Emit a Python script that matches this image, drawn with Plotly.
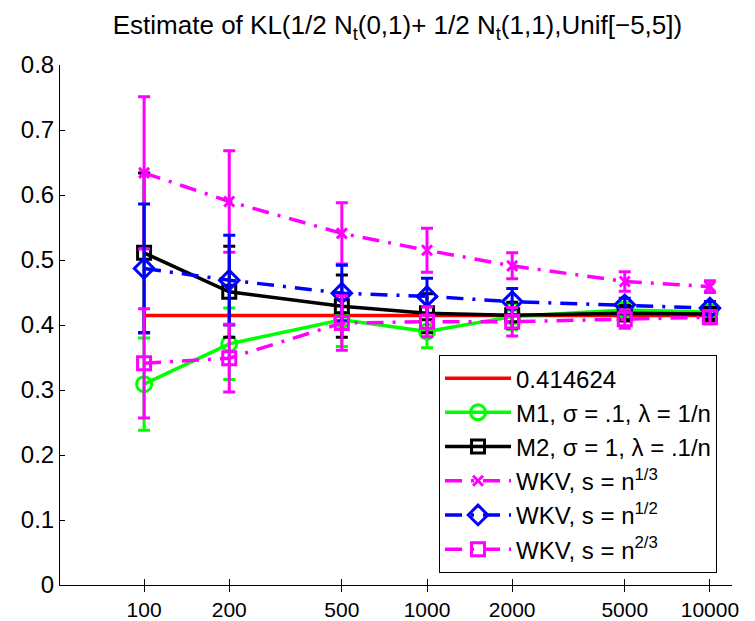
import plotly.graph_objects as go

# ---- data ----
ns = [100, 200, 500, 1000, 2000, 5000, 10000]
truth = 0.414624
m1_mean = [0.309, 0.371, 0.408, 0.390, 0.413, 0.423, 0.420]
m1_err = [0.071, 0.055, 0.041, 0.025, 0.020, 0.012, 0.008]
m2_mean = [0.511, 0.451, 0.429, 0.418, 0.415, 0.418, 0.417]
m2_err = [0.123, 0.070, 0.048, 0.030, 0.020, 0.012, 0.008]
w13_mean = [0.634, 0.590, 0.541, 0.515, 0.491, 0.467, 0.459]
w13_err = [0.117, 0.078, 0.047, 0.034, 0.020, 0.015, 0.009]
w12_mean = [0.487, 0.469, 0.449, 0.444, 0.436, 0.431, 0.426]
w12_err = [0.099, 0.069, 0.043, 0.028, 0.020, 0.010, 0.010]
w23_mean = [0.341, 0.349, 0.403, 0.405, 0.405, 0.409, 0.412]
w23_err = [0.084, 0.052, 0.042, 0.023, 0.022, 0.014, 0.010]
x_ticks = [100, 200, 500, 1000, 2000, 5000, 10000]
x_tick_labels = ["100", "200", "500", "1000", "2000", "5000", "10000"]
y_ticks = [0, 0.1, 0.2, 0.3, 0.4, 0.5, 0.6, 0.7, 0.8]
y_tick_labels = ["0", "0.1", "0.2", "0.3", "0.4", "0.5", "0.6", "0.7", "0.8"]

FONT = "Liberation Sans, Arial, sans-serif"
DASHDOT = "17px,9px,3px,9px"

fig = go.Figure()

def add_series(name, y, err, color, symbol, msize, dash):
    fig.add_trace(go.Scatter(
        x=ns, y=y, name=name, mode="lines+markers", legendgroup=name,
        line=dict(color=color, width=3.5, dash=dash),
        marker=dict(symbol=symbol, size=msize, color=color,
                    line=dict(color=color, width=3)),
        error_y=dict(type="data", array=err, visible=True, color=color,
                     thickness=3, width=6),
    ))

fig.add_trace(go.Scatter(
    x=ns, y=[truth] * len(ns), name="0.414624", mode="lines",
    legendgroup="truth", line=dict(color="#ff0000", width=3.5),
))
add_series("M1, σ = .1, λ = 1/n", m1_mean, m1_err, "#00ff00", "circle-open", 15, "solid")
add_series("M2, σ = 1, λ = .1/n", m2_mean, m2_err, "#000000", "square-open", 13, "solid")
add_series("WKV, s = n<sup>1/3</sup>", w13_mean, w13_err, "#ff00ff", "x-thin-open", 10, DASHDOT)
add_series("WKV, s = n<sup>1/2</sup>", w12_mean, w12_err, "#0000ff", "diamond-open", 15, DASHDOT)
add_series("WKV, s = n<sup>2/3</sup>", w23_mean, w23_err, "#ff00ff", "square-open", 13, DASHDOT)

# dummy trace on overlaid axis for inward x ticks
fig.add_trace(go.Scatter(x=[100], y=[None], xaxis="x2", showlegend=False,
                         hoverinfo="skip", mode="markers"))

xr = [1.7028, 4.078]
fig.update_layout(
    width=747, height=613,
    margin=dict(l=52, r=23, t=57, b=36, autoexpand=False),
    paper_bgcolor="white", plot_bgcolor="white",
    font=dict(family=FONT, color="black"),
    title=dict(
        text="Estimate of KL(1/2 N<sub>t</sub>(0,1)+ 1/2 N<sub>t</sub>(1,1),Unif[−5,5])",
        x=0.5214, xanchor="center", y=0.972, yanchor="middle",
        font=dict(family=FONT, size=26, color="black"),
    ),
    xaxis=dict(type="log", range=xr, tickvals=x_ticks, ticktext=x_tick_labels,
               ticks="outside", ticklen=6, tickwidth=1.3, tickcolor="black",
               showline=True, linecolor="black", linewidth=1.3,
               showgrid=False, zeroline=False, automargin=False,
               tickfont=dict(family=FONT, size=21, color="black")),
    xaxis2=dict(type="log", range=xr, overlaying="x", anchor="y",
                tickvals=x_ticks, showticklabels=False, automargin=False,
                ticks="inside", ticklen=6, tickwidth=1.3, tickcolor="black",
                showline=False, showgrid=False, zeroline=False),
    yaxis=dict(range=[0, 0.8], tickvals=y_ticks, ticktext=y_tick_labels,
               ticks="inside", ticklen=5, tickwidth=1, tickcolor="black",
               showline=True, linecolor="black", linewidth=1,
               showgrid=False, zeroline=False, automargin=False,
               tickfont=dict(family=FONT, size=24, color="black")),
    legend=dict(
        x=0.9777, y=0.023, xanchor="right", yanchor="bottom",
        bgcolor="white", bordercolor="black", borderwidth=1,
        font=dict(family=FONT, size=24, color="black"),
        traceorder="grouped", tracegroupgap=0, itemwidth=66,
    ),
    showlegend=True,
)

fig.write_html("out.html")
